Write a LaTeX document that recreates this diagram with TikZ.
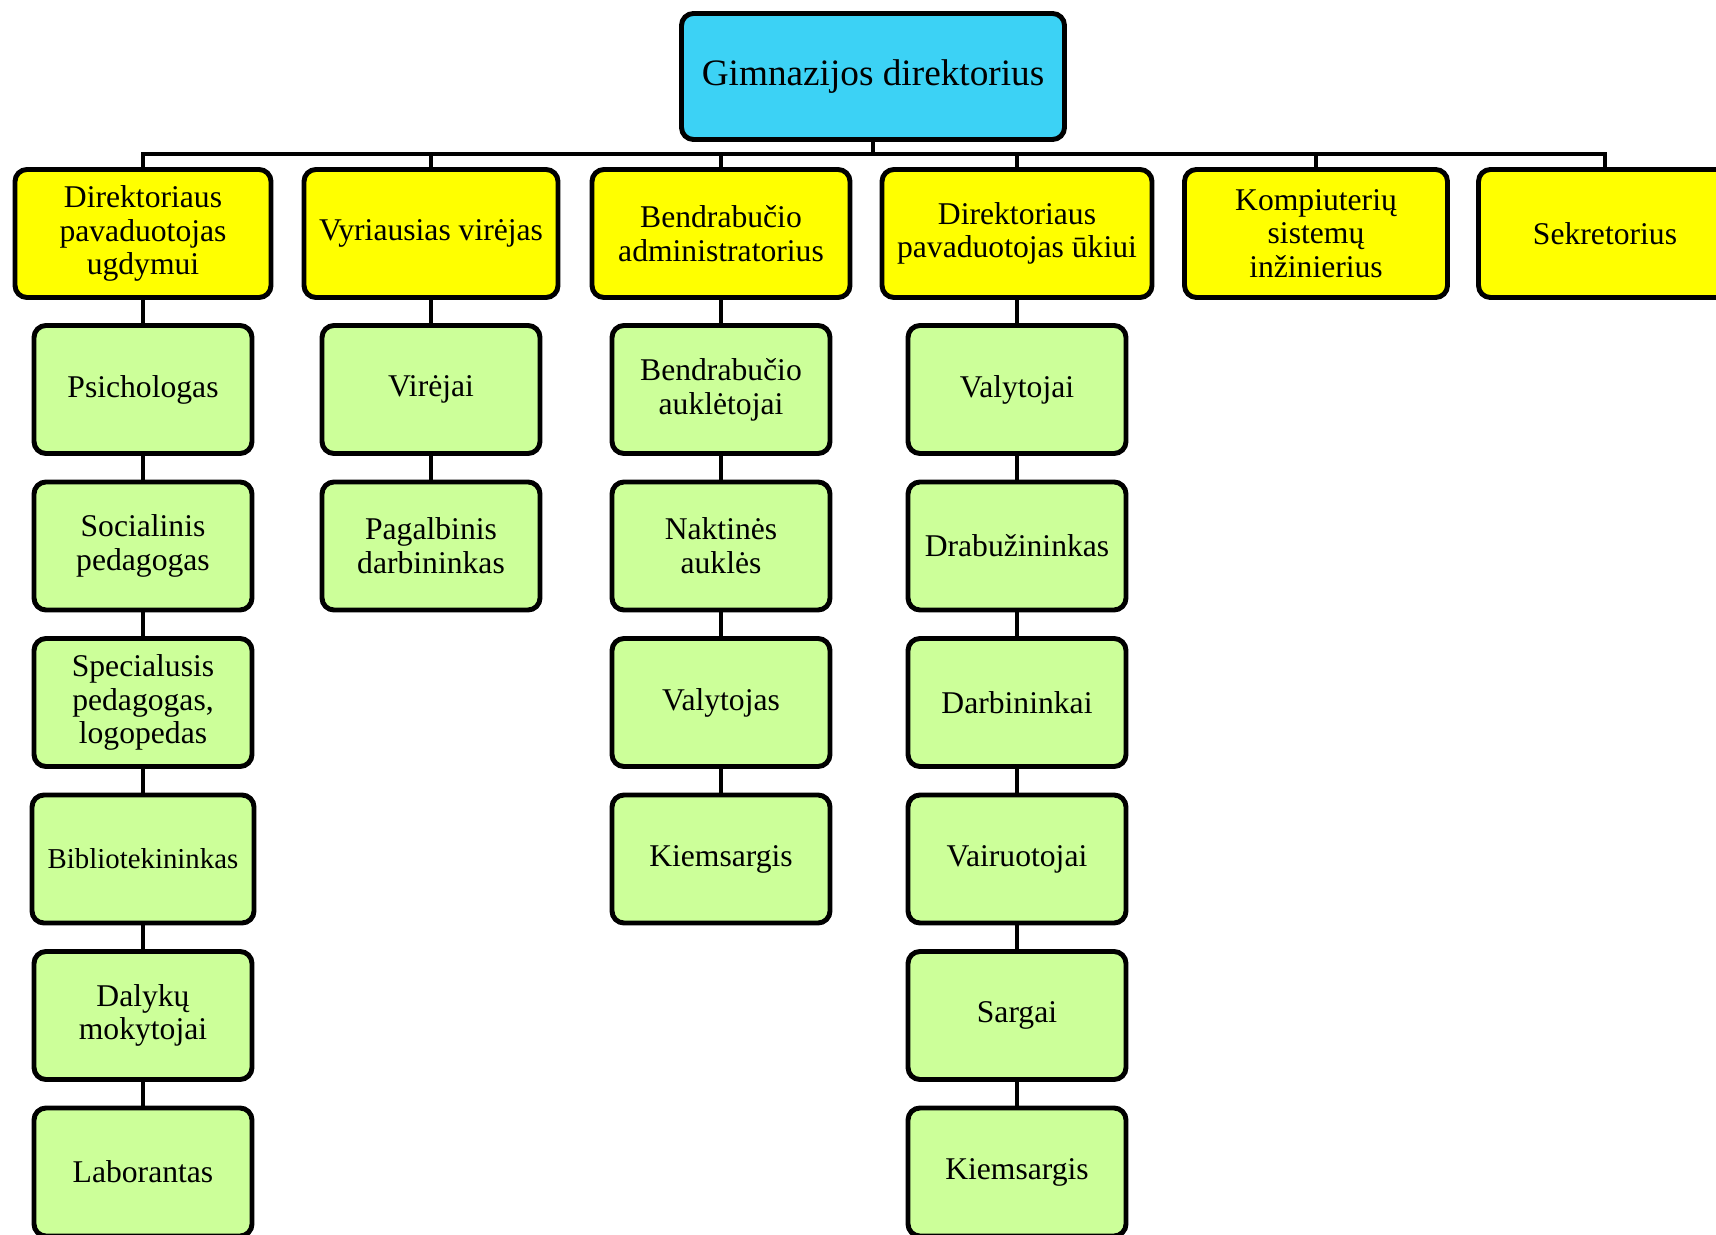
\documentclass[tikz,border=0pt]{standalone}
\usepackage{fontspec}
\setmainfont{Liberation Serif}
\definecolor{rootcyan}{HTML}{3CD2F5}
\definecolor{headyellow}{HTML}{FFFF00}
\definecolor{staffgreen}{HTML}{CCFF99}
\begin{document}
\begin{tikzpicture}[x=0.1mm, y=-0.1mm,
    box/.style={draw, line width=1.4pt, rounded corners=3.4pt, align=center,
      inner sep=2pt, minimum height=12.8mm, font=\fontsize{9}{9.6}\selectfont},
    rootbox/.style={box, fill=rootcyan, minimum width=38.3mm, minimum height=12.6mm,
      font=\fontsize{10.6}{12}\selectfont},
    headbox/.style={box, fill=headyellow},
    staffbox/.style={box, fill=staffgreen, minimum width=21.8mm},
    link/.style={line width=1.1pt}]
    \useasboundingbox (0,0) rectangle (1716,1235);

    % director
    \node[rootbox] (dir) at (873,76.5) {Gimnazijos direktorius};

    % heads
    \node[headbox, minimum width=25.6mm] (ugd) at (143,233.5) {Direktoriaus\\pavaduotojas\\ugdymui};
    \node[headbox, minimum width=25.4mm] (vir) at (431,233.5) {Vyriausias virėjas};
    \node[headbox, minimum width=25.8mm] (adm) at (721,233.5) {Bendrabučio\\administratorius};
    \node[headbox, minimum width=27.0mm] (uki) at (1017,233.5) {Direktoriaus\\pavaduotojas ūkiui};
    \node[headbox, minimum width=26.3mm] (ink) at (1316,233.5) {Kompiuterių\\sistemų\\inžinierius};
    \node[headbox, minimum width=25.3mm] (sek) at (1605,233.5) {Sekretorius};

    % ugdymui staff
    \node[staffbox] (psi) at (143,389.5) {Psichologas};
    \node[staffbox] (soc) at (143,546) {Socialinis\\pedagogas};
    \node[staffbox] (spe) at (143,702.5) {Specialusis\\pedagogas,\\logopedas};
    \node[staffbox, minimum width=22.2mm, font=\fontsize{8.2}{9}\selectfont] (bib) at (143,859) {Bibliotekininkas};
    \node[staffbox] (mok) at (143,1015.5) {Dalykų\\mokytojai};
    \node[staffbox] (lab) at (143,1172) {Laborantas};

    % kitchen staff
    \node[staffbox] (vrj) at (431,389.5) {Virėjai};
    \node[staffbox] (pag) at (431,546) {Pagalbinis\\darbininkas};

    % dormitory staff
    \node[staffbox] (auk) at (721,389.5) {Bendrabučio\\auklėtojai};
    \node[staffbox] (nak) at (721,546) {Naktinės\\auklės};
    \node[staffbox] (val) at (721,702.5) {Valytojas};
    \node[staffbox] (kie) at (721,859) {Kiemsargis};

    % household staff
    \node[staffbox] (vly) at (1017,389.5) {Valytojai};
    \node[staffbox] (drb) at (1017,546) {Drabužininkas};
    \node[staffbox] (dar) at (1017,702.5) {Darbininkai};
    \node[staffbox] (vai) at (1017,859) {Vairuotojai};
    \node[staffbox] (sar) at (1017,1015.5) {Sargai};
    \node[staffbox] (ksg) at (1017,1172) {Kiemsargis};

    % bus
    \coordinate (bus) at (873,154);
    \draw[link] (dir.south) -- (bus);
    \draw[link] (ugd.north) |- (bus) -| (sek.north);
    \draw[link] (vir.north) -- (vir.north |- bus);
    \draw[link] (adm.north) -- (adm.north |- bus);
    \draw[link] (uki.north) -- (uki.north |- bus);
    \draw[link] (ink.north) -- (ink.north |- bus);

    % columns
    \draw[link] (ugd.south) -- (psi.north) (psi.south) -- (soc.north)
      (soc.south) -- (spe.north) (spe.south) -- (bib.north)
      (bib.south) -- (mok.north) (mok.south) -- (lab.north);
    \draw[link] (vir.south) -- (vrj.north) (vrj.south) -- (pag.north);
    \draw[link] (adm.south) -- (auk.north) (auk.south) -- (nak.north)
      (nak.south) -- (val.north) (val.south) -- (kie.north);
    \draw[link] (uki.south) -- (vly.north) (vly.south) -- (drb.north)
      (drb.south) -- (dar.north) (dar.south) -- (vai.north)
      (vai.south) -- (sar.north) (sar.south) -- (ksg.north);
\end{tikzpicture}
\end{document}
